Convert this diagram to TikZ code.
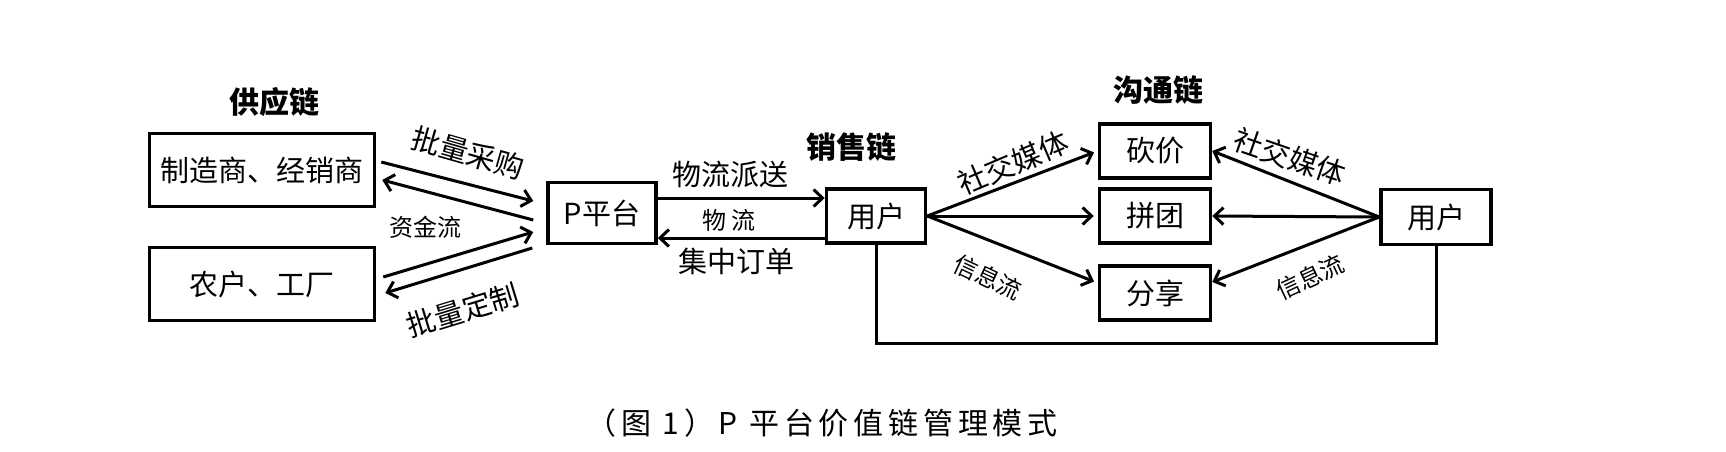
\documentclass[tikz,border=0pt]{standalone}
\usepackage{fontspec}
\setmainfont{Noto Sans CJK SC}
\usetikzlibrary{calc}
\usetikzlibrary{arrows.meta}

\begin{document}
\begin{tikzpicture}[x=1pt, y=-1pt, line width=3pt,
        >={Straight Barb[length=9pt, width=17pt]},
        chainbox/.style={draw, line width=3.5pt, inner sep=0pt, font=\fontsize{29}{32}\selectfont},
        big/.style={inner sep=0pt, font=\fontsize{29}{32}\selectfont},
        small/.style={inner sep=0pt, font=\fontsize{24}{26}\selectfont},
        chaintitle/.style={inner sep=0pt, font=\fontsize{30}{34}\selectfont\bfseries}]
        \useasboundingbox (0, 0) rectangle (1726, 451);
        \node[chaintitle] (supply) at (274, 102) {供应链};
        \node[chainbox, minimum width=225pt, minimum height=73pt] (maker) at (262, 170) {制造商、经销商};
        \node[chainbox, minimum width=225pt, minimum height=73pt] (farmer) at (262, 284) {农户、工厂};
        \node[chainbox, minimum width=108pt, minimum height=61pt] (platform) at (602, 213) {P平台};
        \node[chaintitle] (sales) at (851, 147) {销售链};
        \node[chainbox, minimum width=99pt, minimum height=54pt] (user) at (876, 216) {用户};
        \node[chaintitle] (comm) at (1158, 90) {沟通链};
        \node[chainbox, minimum width=111pt, minimum height=54pt] (bargain) at (1155, 151) {砍价};
        \node[chainbox, minimum width=111pt, minimum height=54pt] (group) at (1155, 216) {拼团};
        \node[chainbox, minimum width=111pt, minimum height=54pt] (share) at (1155, 293) {分享};
        \node[chainbox, minimum width=110pt, minimum height=55pt] (friend) at (1436, 217) {用户};
        \draw[->] ($(maker.east)+(5,-8)$) -- ($(platform.west)+(-13,-12)$);
        \draw[->] ($(platform.west)+(-13,7)$) -- ($(maker.east)+(6,10)$);
        \draw[->] ($(farmer.east)+(7,-7)$) -- ($(platform.west)+(-13,19)$);
        \draw[->] ($(platform.west)+(-14,35)$) -- ($(farmer.east)+(9,9)$);
        \node[big, rotate=-16] (buy) at (468, 153) {批量采购};
        \node[small] (money) at (425, 227) {资金流};
        \node[big, rotate=17] (custom) at (463, 310) {批量定制};
        \draw[->] ($(platform.east)+(0,-15)$) -- ($(user.west)+(0,-18)$);
        \draw[->] ($(user.west)+(0,22)$) -- ($(platform.east)+(0,25)$);
        \node[big] (ship) at (730, 175) {物流派送};
        \node[small] (logi) at (729, 220) {物 流};
        \node[big] (order) at (736, 261) {集中订单};
        \draw[->, shorten >=4pt] (user.east) -- (bargain.west);
        \draw[->, shorten >=4pt] (user.east) -- (group.west);
        \draw[->, shorten >=4pt] (user.east) -- ($(share.west)+(0,-10)$);
        \node[big, rotate=23] (media) at (1013, 163) {社交媒体};
        \node[small, rotate=-25] (info) at (988, 277) {信息流};
        \draw[->] (friend.west) -- (bargain.east);
        \draw[->] (friend.west) -- (group.east);
        \draw[->] (friend.west) -- ($(share.east)+(0,-11)$);
        \node[big, rotate=-19] (media2) at (1290, 157) {社交媒体};
        \node[small, rotate=25] (info2) at (1310, 277) {信息流};
        \draw (user.south) -- ++(0, 99) -| (friend.south);
        \node[font=\fontsize{30}{34}\selectfont\addfontfeatures{LetterSpace=16}] (caption) at (822, 423) {（图 1）P 平台价值链管理模式};
\end{tikzpicture}
\end{document}
